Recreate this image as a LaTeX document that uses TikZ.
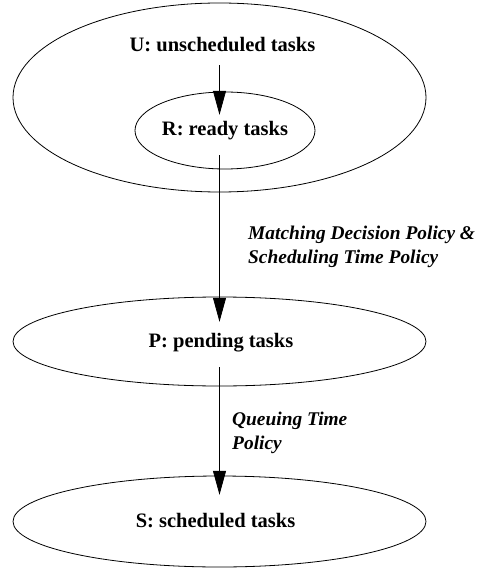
\documentclass[tikz,border=0pt]{standalone}
\usepackage{fontspec}
\setmainfont{Liberation Serif}
\usepackage{tikz}
\usetikzlibrary{positioning}
\usetikzlibrary{shapes.geometric}
\usetikzlibrary{arrows.meta}

\begin{document}
\begin{tikzpicture}[x=1pt,y=-1pt,
						setnode/.style={ellipse, draw=black, line width=0.8pt, inner sep=0pt},
						namenode/.style={font=\fontsize{20.5}{24}\selectfont\bfseries, anchor=base, inner sep=0pt, text height=15pt, text depth=5pt},
						policynode/.style={font=\fontsize{19.4}{23.5}\selectfont\bfseries\itshape, align=left, anchor=north west, inner sep=0pt},
						flow/.style={line width=0.8pt, -{Triangle[length=24pt,width=13pt]}},
						]
						\useasboundingbox (0,0) rectangle (482,569);
						%Nodes
						\node[setnode, minimum width=413pt, minimum height=189pt] (U) at (219.5,97.5) {};
						\node[setnode, minimum width=180pt, minimum height=77pt]  (R) at (225,130.5)  {};
						\node[setnode, minimum width=413pt, minimum height=89pt]  (P) at (219.5,341.5) {};
						\node[setnode, minimum width=413pt, minimum height=91pt]  (S) at (219.5,521.5) {};

						\node[namenode] (nU) at (222.5,52)  {U: unscheduled tasks};
						\node[namenode] (nR) at (225,136)   {R: ready tasks};
						\node[namenode] (nP) at (221,347)   {P: pending tasks};
						\node[namenode] (nS) at (215.5,527) {S: scheduled tasks};

						\node[policynode] (label)  at (248,226) {Matching Decision Policy \&\\Scheduling Time Policy};
						\node[policynode] (label2) at (232,412) {Queuing Time\\Policy};

						%Lines
						\draw[flow, shorten <=8pt,  shorten >=6pt]  (nU.south -| U) -- (nR.north -| U);
						\draw[flow, shorten <=14pt, shorten >=10pt] (nR.south -| U) -- (nP.north -| U);
						\draw[flow, shorten <=15pt, shorten >=17pt] (nP.south -| U) -- (nS.north -| U);
					\end{tikzpicture}
\end{document}
